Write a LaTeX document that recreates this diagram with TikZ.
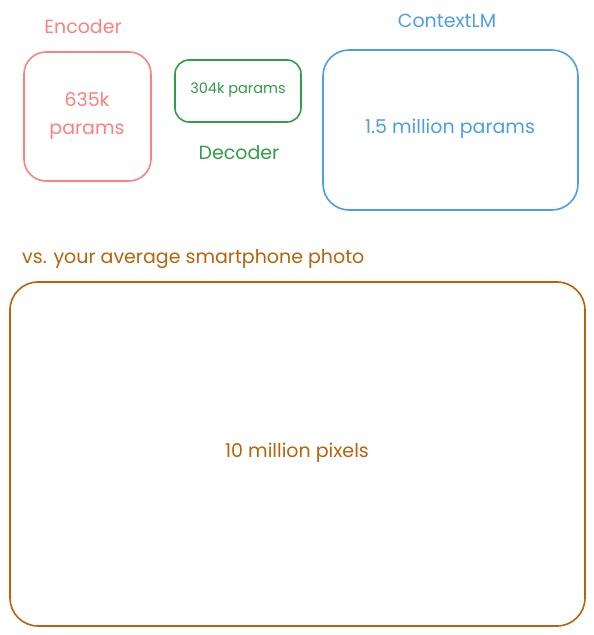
\documentclass[tikz,border=0pt]{standalone}
\usepackage{fontspec}
\setmainfont{Poppins}
\definecolor{encred}{HTML}{FF8080}
\definecolor{decgreen}{HTML}{2F9E44}
\definecolor{ctxblue}{HTML}{4D9EE6}
\definecolor{photobrown}{HTML}{B8620C}
\tikzset{
  sketchbox/.style={draw, line width=1.6pt, rounded corners=#1},
  sketchbox/.default=22pt,
  bigtext/.style={font=\fontsize{19}{28}\selectfont},
  smalltext/.style={font=\fontsize{14.5}{18}\selectfont},
}
\begin{document}
\begin{tikzpicture}[x=1pt,y=-1pt]
  \useasboundingbox (0,0) rectangle (594,635);
  % Encoder
  \draw[sketchbox, encred] (24,52) rectangle (151,181);
  \node[encred, bigtext] (enclabel) at (83,27) {Encoder};
  \node[encred, bigtext, align=center] (encparams) at (87,116) {635k\\params};
  % Decoder
  \draw[sketchbox=14pt, decgreen] (175,60) rectangle (301,122);
  \node[decgreen, smalltext] (decparams) at (238,90) {304k params};
  \node[decgreen, bigtext] (declabel) at (239,153) {Decoder};
  % ContextLM
  \draw[sketchbox=26pt, ctxblue] (323,50) rectangle (578,210);
  \node[ctxblue, bigtext] (ctxparams) at (450,129) {1.5 million params};
  \node[ctxblue, bigtext] (ctxlabel) at (447,21) {ContextLM};
  % Photo
  \node[photobrown, bigtext, anchor=west, inner sep=0pt] (photolabel) at (22,259) {vs. your average smartphone photo};
  \draw[sketchbox=28pt, photobrown] (10,282) rectangle (585,626);
  \node[photobrown, bigtext] (photopixels) at (297,453) {10 million pixels};
\end{tikzpicture}
\end{document}
